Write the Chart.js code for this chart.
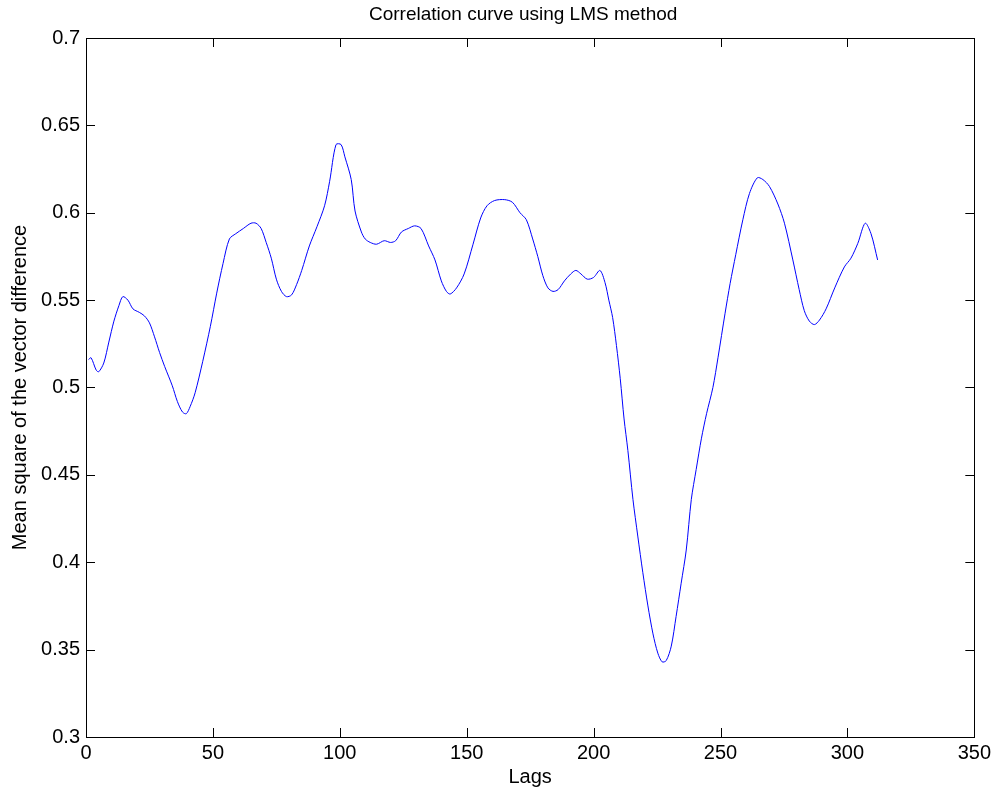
<!DOCTYPE html>
<html>
<head>
<meta charset="utf-8">
<title>Correlation curve using LMS method</title>
<script src="https://cdn.jsdelivr.net/npm/chart.js@4/dist/chart.umd.min.js"></script>
<style>
  html, body { margin: 0; padding: 0; background: #fff; }
  #wrap { width: 995px; height: 794px; }
</style>
</head>
<body>
<div id="wrap"><canvas id="corr"></canvas></div>
<script>
// lag positions and the mean square difference at each one
const lags = [
  1, 2, 4, 5, 7, 9, 11, 13, 14.5, 16.5, 18.5, 21, 23, 25, 27, 29, 31, 34, 36, 38,
  39.5, 41, 43, 46, 49, 51.5, 54, 56.5, 59, 62, 65, 67, 69, 71, 73, 75, 77, 79, 81, 83,
  85, 88, 91, 94, 96, 98.5, 100.5, 102, 104.5, 106, 108.5, 110, 112, 114.5, 117.5, 120, 122, 124.3, 127, 129.5,
  132, 135, 137.5, 140, 142, 143.5, 146, 149, 152.5, 155.5, 158, 161, 165, 168, 171, 173.5, 176, 178, 180, 182,
  184, 186, 188.5, 191, 193, 195, 197.5, 200, 202.5, 204.5, 206, 207.5, 209, 210.5, 212, 213.5, 215.5, 217.4, 219.4, 221.4,
  223.4, 225.3, 227, 228.6, 230.6, 232.5, 234.5, 236.5, 238.5, 240.4, 242.5, 244.5, 247, 249, 251.8, 253.8, 256, 258.8, 261.4, 264.5,
  266.7, 269.3, 272.6, 275.2, 278.5, 281, 283, 285, 287, 289, 291.6, 295, 298.8, 301.4, 304.1, 307, 309.3, 311.9
];
const msd = [
  0.516, 0.517, 0.510, 0.509, 0.514, 0.526, 0.538, 0.547, 0.552, 0.550, 0.545, 0.543, 0.541, 0.537, 0.529, 0.520, 0.512, 0.501, 0.492, 0.486,
  0.485, 0.489, 0.497, 0.515, 0.535, 0.554, 0.571, 0.585, 0.588, 0.591, 0.594, 0.594, 0.591, 0.583, 0.574, 0.562, 0.555, 0.552, 0.553, 0.559,
  0.567, 0.581, 0.592, 0.604, 0.618, 0.639, 0.639, 0.632, 0.619, 0.601, 0.589, 0.585, 0.583, 0.582, 0.584, 0.583, 0.584, 0.589, 0.591, 0.5925,
  0.591, 0.581, 0.573, 0.561, 0.555, 0.5535, 0.557, 0.565, 0.582, 0.597, 0.604, 0.607, 0.6075, 0.606, 0.600, 0.596, 0.585, 0.575, 0.564, 0.557,
  0.555, 0.556, 0.561, 0.565, 0.567, 0.565, 0.562, 0.563, 0.567, 0.560, 0.550, 0.540, 0.524, 0.505, 0.482, 0.464, 0.436, 0.415, 0.394, 0.375,
  0.359, 0.348, 0.343, 0.3437, 0.352, 0.369, 0.388, 0.407, 0.436, 0.453, 0.471, 0.485, 0.500, 0.517, 0.5425, 0.5596, 0.576, 0.596, 0.611, 0.620,
  0.619, 0.615, 0.605, 0.594, 0.573, 0.556, 0.544, 0.538, 0.536, 0.5386, 0.545, 0.557, 0.569, 0.574, 0.5825, 0.594, 0.588, 0.573
];

const xTicks = [0, 50, 100, 150, 200, 250, 300, 350];
const yTicks = [0.3, 0.35, 0.4, 0.45, 0.5, 0.55, 0.6, 0.65, 0.7];

const titleText = 'Correlation curve using LMS method';
const FONT = '"Liberation Sans", Arial, sans-serif';

// box round the axes with inward tick marks on all four sides, plus the title
const frame = {
  id: 'frame',
  afterDraw(chart) {
    const { ctx, chartArea: a, scales } = chart;
    const len = 9;
    ctx.save();
    ctx.strokeStyle = '#000';
    ctx.lineWidth = 1;
    ctx.strokeRect(Math.round(a.left) + 0.5, Math.round(a.top) + 0.5,
      Math.round(a.right - a.left), Math.round(a.bottom - a.top));
    ctx.beginPath();
    xTicks.forEach(v => {
      const px = Math.round(scales.x.getPixelForValue(v)) + 0.5;
      ctx.moveTo(px, a.bottom); ctx.lineTo(px, a.bottom - len);
      ctx.moveTo(px, a.top); ctx.lineTo(px, a.top + len);
    });
    yTicks.forEach(v => {
      const py = Math.round(scales.y.getPixelForValue(v)) + 0.5;
      ctx.moveTo(a.left, py); ctx.lineTo(a.left + len, py);
      ctx.moveTo(a.right, py); ctx.lineTo(a.right - len, py);
    });
    ctx.stroke();

    ctx.fillStyle = '#000';
    ctx.font = '19px ' + FONT;
    ctx.textAlign = 'center';
    ctx.textBaseline = 'middle';
    ctx.fillText(titleText, (a.left + a.right) / 2 - 7, 15);
    ctx.restore();
  }
};

new Chart(document.getElementById('corr'), {
  type: 'line',
  data: {
    datasets: [{
      data: lags.map((l, i) => ({ x: l, y: msd[i] })),
      borderColor: 'rgb(0, 0, 255)',
      borderWidth: 1,
      pointRadius: 0,
      tension: 0.3,
      fill: false
    }]
  },
  options: {
    responsive: true,
    maintainAspectRatio: false,
    animation: false,
    events: [],
    layout: { padding: { top: 38, right: 20, left: 0, bottom: 0 } },
    plugins: {
      legend: { display: false },
      tooltip: { enabled: false },
      title: { display: false }
    },
    scales: {
      x: {
        type: 'linear',
        min: 0,
        max: 350,
        afterBuildTicks: s => { s.ticks = xTicks.map(v => ({ value: v })); },
        afterFit: s => { s.height = 57; },
        grid: { display: false, drawTicks: false },
        border: { display: false },
        ticks: { color: '#000', font: { family: FONT, size: 20 }, padding: 4, maxRotation: 0 },
        title: { display: true, text: 'Lags', color: '#000', font: { family: FONT, size: 20 }, padding: { top: 0, bottom: 5 } }
      },
      y: {
        min: 0.3,
        max: 0.7,
        afterBuildTicks: s => { s.ticks = yTicks.map(v => ({ value: v })); },
        afterFit: s => { s.width = 86; },
        grid: { display: false, drawTicks: false },
        border: { display: false },
        ticks: { color: '#000', font: { family: FONT, size: 20 }, padding: 6, callback: v => String(+v.toFixed(2)) },
        title: { display: true, text: 'Mean square of the vector difference', color: '#000', font: { family: FONT, size: 20 }, padding: { top: 8, bottom: 0 } }
      }
    }
  },
  plugins: [frame]
});
</script>
</body>
</html>
